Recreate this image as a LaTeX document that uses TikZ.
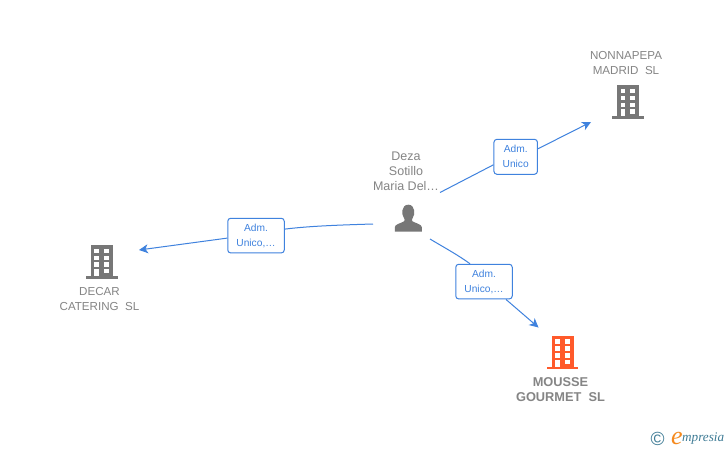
\documentclass[tikz,border=0pt]{standalone}
\usepackage{fontspec}
\setmainfont{Liberation Sans}
\newfontfamily\logofont{Liberation Serif}
\usetikzlibrary{arrows.meta}
\definecolor{linkblue}{HTML}{3F82DE}
\definecolor{labelgrey}{HTML}{858585}
\definecolor{icongrey}{HTML}{777777}
\definecolor{iconorange}{HTML}{FF5A2B}
\definecolor{logoteal}{HTML}{3F7C96}
\definecolor{logoorange}{HTML}{F58A1F}
\tikzset{
  x=1pt,y=-1pt,
  rolebox/.style={draw=linkblue,line width=1pt,rounded corners=3pt,fill=white,inner sep=0pt,
    text=linkblue,align=center,font=\fontsize{10.2}{15}\selectfont},
  caption/.style={text=labelgrey,align=center,inner sep=0pt,font=\fontsize{11.6}{15}\selectfont},
  personcaption/.style={text=labelgrey,align=center,inner sep=0pt,font=\fontsize{12.5}{15}\selectfont},
  captionbold/.style={text=labelgrey,align=center,inner sep=0pt,font=\fontsize{12.8}{15.5}\selectfont\bfseries},
  link/.style={draw=linkblue,line width=1pt},
  linkarrow/.style={link,-{Stealth[length=9pt,width=9pt,inset=2.5pt]}},
  pics/building/.style={code={
    \fill[#1] (-11,-33.6) rectangle (11,-2.7);
    \fill[#1] (-15.8,-2.7) rectangle (15.8,0);
    \foreach \wy in {-30,-23,-16.2} {
      \fill[white] (-7.5,\wy) rectangle (-2.6,{\wy+4.6});
      \fill[white] (2.2,\wy) rectangle (7.1,{\wy+4.6});
    }
    \fill[white] (-7.5,-9.8) rectangle (-2.6,-2.7);
    \fill[white] (2.2,-9.8) rectangle (7.1,-5.2);
  }},
  pics/personshape/.style={code={
    \fill[#1] (-13.5,0) -- (-13.5,-4.5) .. controls (-13.5,-7.5) and (-7,-8.5) .. (-4,-10.5)
      .. controls (-3.5,-12) and (-3.5,-13) .. (-4.5,-14)
      .. controls (-7,-17) and (-7,-27) .. (0,-27)
      .. controls (7,-27) and (7,-17) .. (4.5,-14)
      .. controls (3.5,-13) and (3.5,-12) .. (4,-10.5)
      .. controls (7,-8.5) and (13.5,-7.5) .. (13.5,-4.5)
      -- (13.5,0) -- cycle;
  }},
}
\begin{document}
\begin{tikzpicture}
\useasboundingbox (0,0) rectangle (728,450);
\fill[white] (0,0) rectangle (728,450);

% icons
\coordinate (nonnaicon) at (628,118.7);
\coordinate (decaricon) at (101.7,278.5);
\coordinate (mousseicon) at (562.5,369.3);
\coordinate (personicon) at (408.3,231.7);
\pic at (nonnaicon) {building=icongrey};
\pic at (decaricon) {building=icongrey};
\pic at (mousseicon) {building=iconorange};
\pic at (personicon) {personshape=icongrey};

% captions
\node[personcaption] (personname) at (406,171) {Deza\\Sotillo\\Maria Del\ldots};
\node[caption] (nonnaname) at (626,63) {NONNAPEPA\\MADRID\ \ SL};
\node[caption] (decarname) at (99.5,299) {DECAR\\CATERING\ \ SL};
\node[captionbold] (moussename) at (560.5,389.5) {MOUSSE\\GOURMET\ \ SL};

% role boxes
\node[rolebox,minimum width=43.5pt,minimum height=35pt] (roleA) at (515.7,156.8) {\raisebox{-1pt}{Adm.}\\\raisebox{-1pt}{Unico}};
\node[rolebox,minimum width=56.5pt,minimum height=34.7pt] (roleB) at (484,281.6) {\raisebox{-1pt}{Adm.}\\\raisebox{-1pt}{Unico,\ldots}};
\node[rolebox,minimum width=56.5pt,minimum height=34.7pt] (roleC) at (256,235.6) {\raisebox{-1pt}{Adm.}\\\raisebox{-1pt}{Unico,\ldots}};

% connector ends
\coordinate (fromA) at (440,192.5);
\coordinate (toA) at (591,122);
\coordinate (fromB) at (430,239);
\coordinate (toB) at (538.5,327.5);
\coordinate (fromC) at (373,224);
\coordinate (toC) at (139,250);

\draw[link] (fromA) -- ([yshift=-8pt]roleA.west);
\draw[linkarrow] ([yshift=8pt]roleA.east) -- (toA);
\draw[link] (fromB) .. controls (445,248) and (458,255) .. ([xshift=-14pt]roleB.north);
\draw[linkarrow] ([xshift=22pt]roleB.south) -- (toB);
\draw[link] (fromC) .. controls (340,225) and (310,226) .. ([yshift=6.5pt]roleC.east);
\draw[linkarrow] ([yshift=-2.5pt]roleC.west) -- (toC);

% logo
\node[text=logoteal,inner sep=0pt,font=\fontsize{19}{19}\selectfont] (copyr) at (657.5,439) {©};
\node[text=logoorange,inner sep=0pt,font=\logofont\fontsize{26}{26}\selectfont\itshape] (logoe) at (677,438.5) {e};
\node[text=logoteal,inner sep=0pt,anchor=west,font=\logofont\fontsize{13.2}{14}\selectfont\itshape] (logotext) at (682,439) {mpresia};
\end{tikzpicture}
\end{document}
